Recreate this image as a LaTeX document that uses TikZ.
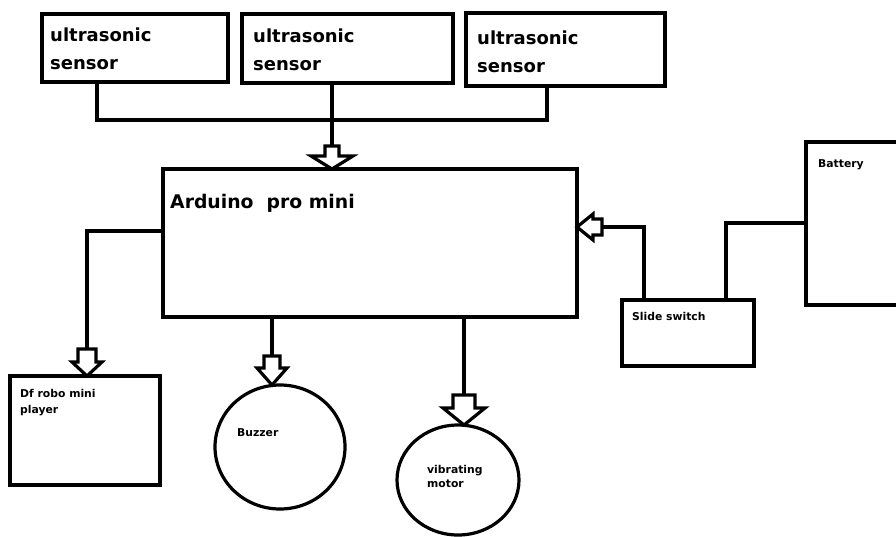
\documentclass[tikz,border=0pt]{standalone}
\usepackage{fontspec}
\setmainfont{DejaVu Sans}
\usetikzlibrary{calc,shapes.geometric}
\tikzset{
  conn/.style={line width=3.2pt, line join=miter},
  box/.style={draw, line width=3.2pt, rectangle, inner sep=0pt, outer sep=0pt},
  oval/.style={draw, line width=3.2pt, ellipse, inner sep=0pt, outer sep=0pt},
  bigtxt/.style={anchor=base west, inner sep=0pt, align=left, font=\bfseries\fontsize{18}{28}\selectfont},
  smalltxt/.style={anchor=base west, inner sep=0pt, align=left, font=\bfseries\fontsize{10.8}{16}\selectfont},
  pics/hollowdown/.style n args={4}{code={
    \draw[conn] (-#1,-#3-#4) -- (#1,-#3-#4) -- (#1,-#3) -- (#2,-#3) -- (0,0) -- (-#2,-#3) -- (-#1,-#3) -- cycle;}},
  pics/hollowleft/.style n args={4}{code={
    \draw[conn] (0,0) -- (#3,-#2) -- (#3,-#1) -- (#3+#4,-#1) -- (#3+#4,#1) -- (#3,#1) -- (#3,#2) -- cycle;}}
}
\begin{document}
\begin{tikzpicture}[x=1pt,y=-1pt]
\clip (0,0) rectangle (896,536);
\useasboundingbox (0,0) rectangle (896,536);
% boxes
\node[box, minimum width=186pt, minimum height=68pt] (s1) at (135,48) {};
\node[box, minimum width=211pt, minimum height=69pt] (s2) at (347.5,48.5) {};
\node[box, minimum width=199pt, minimum height=73pt] (s3) at (565.5,49.5) {};
\node[box, minimum width=414pt, minimum height=148pt] (ard) at (370,243) {};
\node[box, minimum width=150pt, minimum height=109pt] (df) at (85,430.5) {};
\node[oval, minimum width=130pt, minimum height=124pt] (buz) at (280,447) {};
\node[oval, minimum width=122pt, minimum height=110pt] (vib) at (458,480) {};
\node[box, minimum width=132pt, minimum height=66pt] (sw) at (688,333) {};
\node[box, minimum width=110pt, minimum height=163pt] (bat) at (861,223.5) {};
% texts (base = baseline of the last line)
\node[bigtxt] (t1) at (50,69) {ultrasonic\\sensor};
\node[bigtxt] (t2) at (253,70) {ultrasonic\\sensor};
\node[bigtxt] (t3) at (477,72) {ultrasonic\\sensor};
\node[bigtxt, font=\bfseries\fontsize{18.8}{28}\selectfont] (t4) at (170,208) {Arduino\ \ pro mini};
\node[smalltxt] (t5) at (818,167) {Battery};
\node[smalltxt] (t6) at (632,320) {Slide switch};
\node[smalltxt] (t7) at (20,413) {Df robo mini\\player};
\node[smalltxt] (t8) at (237,436) {Buzzer};
\node[smalltxt, font=\bfseries\fontsize{10.8}{14}\selectfont] (t9) at (427,487) {vibrating\\motor};
% sensor bus
\coordinate (b1) at (97,120);
\coordinate (bm) at (332,120);
\coordinate (b3) at (547,120);
\draw[conn] (b1 |- s1.south) -- (b1) -- (b3) -- (b3 |- s3.south);
\draw[conn] (bm |- s2.south) -- ($(bm |- ard.north)+(0,-23)$);
\pic at (bm |- ard.north) {hollowdown={7}{21}{13}{10}};
% to Df player
\coordinate (dl) at (87,231);
\draw[conn] (ard.west |- dl) -- (dl) -- ($(dl |- df.north)+(0,-27)$);
\pic at (dl |- df.north) {hollowdown={9}{15}{14}{13}};
% to buzzer
\coordinate (bz) at (272,385);
\draw[conn] (bz |- ard.south) -- ($(bz)+(0,-29)$);
\pic at (bz) {hollowdown={8}{15}{17}{12}};
% to vibrating motor
\draw[conn] (vib.north |- ard.south) ++(6,0) -- ($(vib.north)+(6,-30)$);
\pic at ($(vib.north)+(6,0)$) {hollowdown={11}{21}{17}{13}};
% slide switch to arduino
\coordinate (sl) at (644,227);
\draw[conn] (sl |- sw.north) -- (sl) -- ($(ard.east |- sl)+(25,0)$);
\pic at (ard.east |- sl) {hollowleft={8}{13}{16}{9}};
% battery to slide switch
\coordinate (sb) at (726,223);
\draw[conn] (sb |- sw.north) -- (sb) -- (bat.west |- sb);
\end{tikzpicture}
\end{document}
